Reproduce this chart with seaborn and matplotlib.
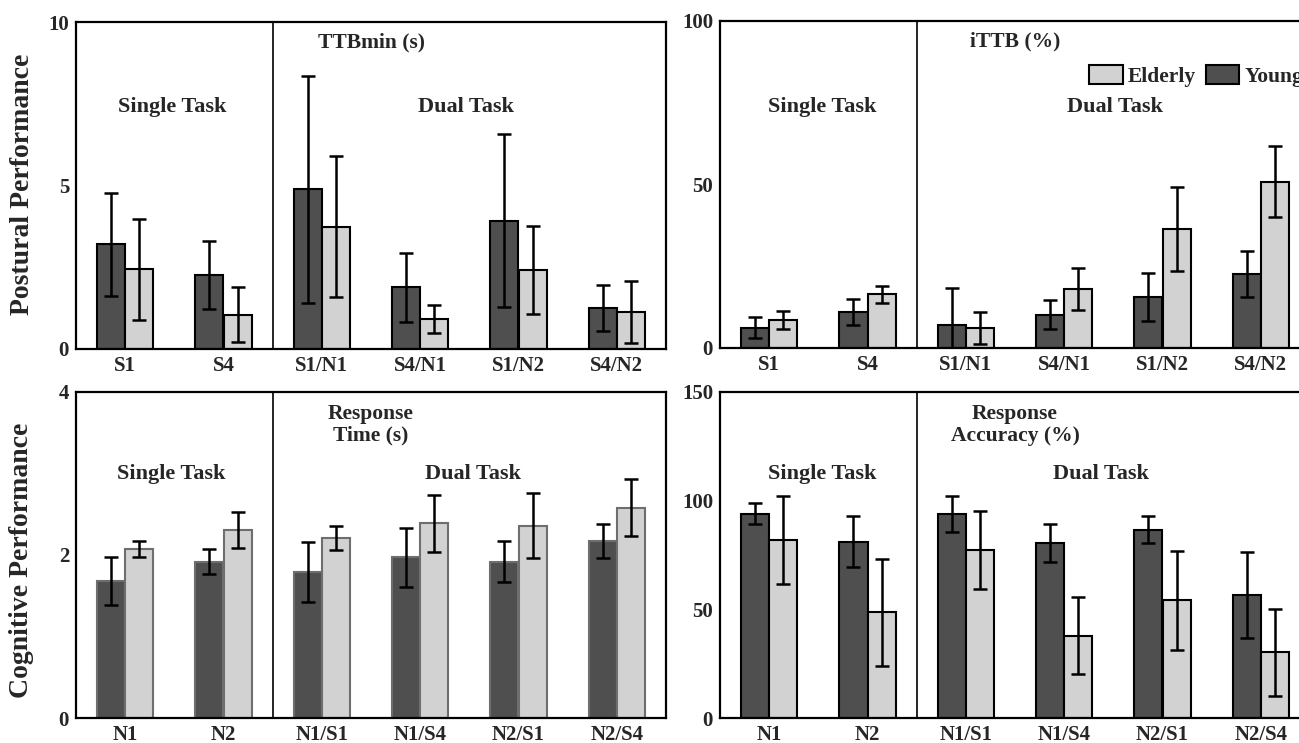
import numpy as np
import pandas as pd
import matplotlib
matplotlib.use('Agg')
import matplotlib.pyplot as plt
from matplotlib.patches import Patch
import seaborn as sns

# --- data ---
groups = ['Young', 'Elderly']

post_labels = ['S1', 'S4', 'S1/N1', 'S4/N1', 'S1/N2', 'S4/N2']
ttb_young = [3.20, 2.26, 4.89, 1.89, 3.92, 1.26]
ttb_young_sd = [1.58, 1.03, 3.47, 1.05, 2.65, 0.70]
ttb_elderly = [2.44, 1.05, 3.74, 0.91, 2.42, 1.14]
ttb_elderly_sd = [1.54, 0.84, 2.16, 0.43, 1.35, 0.95]

ittb_young = [6.1, 11.0, 6.9, 10.1, 15.6, 22.6]
ittb_young_sd = [3.2, 4.0, 11.4, 4.5, 7.4, 7.0]
ittb_elderly = [8.5, 16.3, 5.9, 17.9, 36.3, 50.8]
ittb_elderly_sd = [2.7, 2.7, 4.9, 6.5, 12.8, 10.9]

cog_labels = ['N1', 'N2', 'N1/S1', 'N1/S4', 'N2/S1', 'N2/S4']
rt_young = [1.68, 1.92, 1.79, 1.97, 1.92, 2.17]
rt_young_sd = [0.29, 0.15, 0.37, 0.36, 0.25, 0.21]
rt_elderly = [2.07, 2.31, 2.21, 2.39, 2.36, 2.58]
rt_elderly_sd = [0.10, 0.22, 0.15, 0.35, 0.40, 0.35]

acc_young = [93.9, 81.2, 93.8, 80.6, 86.7, 56.8]
acc_young_sd = [4.8, 11.7, 8.1, 8.7, 6.4, 19.7]
acc_elderly = [81.8, 48.6, 77.1, 38.0, 54.2, 30.3]
acc_elderly_sd = [20.1, 24.6, 17.9, 17.6, 22.7, 20.0]

dark = '#4f4f4f'
light = '#d2d2d2'
font = ['Liberation Serif', 'DejaVu Serif']

sns.set_style('white')
plt.rcParams['font.family'] = font
plt.rcParams['font.weight'] = 'bold'


def make_df(labels, young, young_sd, elderly, elderly_sd):
    return pd.DataFrame({
        'cond': labels * 2,
        'group': ['Young'] * len(labels) + ['Elderly'] * len(labels),
        'value': young + elderly,
        'sd': young_sd + elderly_sd,
    })


def panel(ax, df, labels, ymax, yticks, title, title_y, edge):
    sns.barplot(data=df, x='cond', y='value', hue='group', order=labels,
                hue_order=groups, palette=[dark, light], width=0.575,
                errorbar=None, edgecolor=edge, linewidth=1.5, legend=False, ax=ax)
    # error bars placed on the bars seaborn drew
    for i, p in enumerate(ax.patches):
        g = i // len(labels)
        c = i % len(labels)
        sd = df[df.group == groups[g]].sd.values[c]
        ax.errorbar(p.get_x() + p.get_width() / 2, p.get_height(), yerr=sd,
                    fmt='none', ecolor='black', elinewidth=1.8, capsize=5, capthick=1.8)
    ax.set_xlim(-0.5, 5.5)
    ax.set_ylim(0, ymax)
    ax.set_yticks(yticks)
    ax.set_xlabel('')
    ax.set_ylabel('')
    ax.axvline(1.5, color='black', lw=1.2)
    for s in ax.spines.values():
        s.set_visible(True)
        s.set_color('black')
        s.set_linewidth(1.6)
    ax.tick_params(axis='both', length=0, labelsize=15, pad=5)
    for t in ax.get_xticklabels() + ax.get_yticklabels():
        t.set_fontweight('bold')
    ax.text(2.5, title_y, title, transform=ax.get_xaxis_transform(),
            ha='center', va='center', fontsize=15.5, fontweight='bold', linespacing=1.1)


fig = plt.figure(figsize=(12.99, 7.43), dpi=100)
w = 590 / 1299
ax1 = fig.add_axes([76 / 1299, 1 - 349 / 743, w, 327 / 743])
ax2 = fig.add_axes([720 / 1299, 1 - 347.7 / 743, w, 326.7 / 743])
ax3 = fig.add_axes([76 / 1299, 1 - 718.3 / 743, w, 326.6 / 743])
ax4 = fig.add_axes([720 / 1299, 1 - 718.3 / 743, w, 326.6 / 743])

panel(ax1, make_df(post_labels, ttb_young, ttb_young_sd, ttb_elderly, ttb_elderly_sd),
      post_labels, 10, [0, 5, 10], 'TTBmin (s)', 0.936, 'black')
panel(ax2, make_df(post_labels, ittb_young, ittb_young_sd, ittb_elderly, ittb_elderly_sd),
      post_labels, 100, [0, 50, 100], 'iTTB (%)', 0.937, 'black')
panel(ax3, make_df(cog_labels, rt_young, rt_young_sd, rt_elderly, rt_elderly_sd),
      cog_labels, 4, [0, 2, 4], 'Response\nTime (s)', 0.9, '#6e6e6e')
panel(ax4, make_df(cog_labels, acc_young, acc_young_sd, acc_elderly, acc_elderly_sd),
      cog_labels, 150, [0, 50, 100, 150], 'Response\nAccuracy (%)', 0.898, 'black')

# single / dual task labels
for ax, ys, xs in [(ax1, 0.74, (0.48, 3.47)), (ax2, 0.738, (0.54, 3.52)),
                   (ax3, 0.747, (0.47, 3.54)), (ax4, 0.747, (0.54, 3.37))]:
    ax.text(xs[0], ys, 'Single Task', transform=ax.get_xaxis_transform(),
            ha='center', va='center', fontsize=16, fontweight='bold')
    ax.text(xs[1], ys, 'Dual Task', transform=ax.get_xaxis_transform(),
            ha='center', va='center', fontsize=16, fontweight='bold')

handles = [Patch(facecolor=light, edgecolor='black', lw=1.5, label='Elderly'),
           Patch(facecolor=dark, edgecolor='black', lw=1.5, label='Young')]
ax2.legend(handles=handles, loc='center left', bbox_to_anchor=(0.626, 0.833), ncol=2,
           frameon=False, handlelength=1.55, handleheight=1.0,
           handletextpad=0.25, columnspacing=0.45, borderaxespad=0, borderpad=0,
           prop={'family': font, 'weight': 'bold', 'size': 15.5})

fig.text(23 / 1299, 1 - 184 / 743, 'Postural Performance', rotation=90,
         ha='center', va='center', fontsize=20, fontweight='bold')
fig.text(22 / 1299, 1 - 560 / 743, 'Cognitive Performance', rotation=90,
         ha='center', va='center', fontsize=20, fontweight='bold')

fig.savefig('out.png', dpi=100)
